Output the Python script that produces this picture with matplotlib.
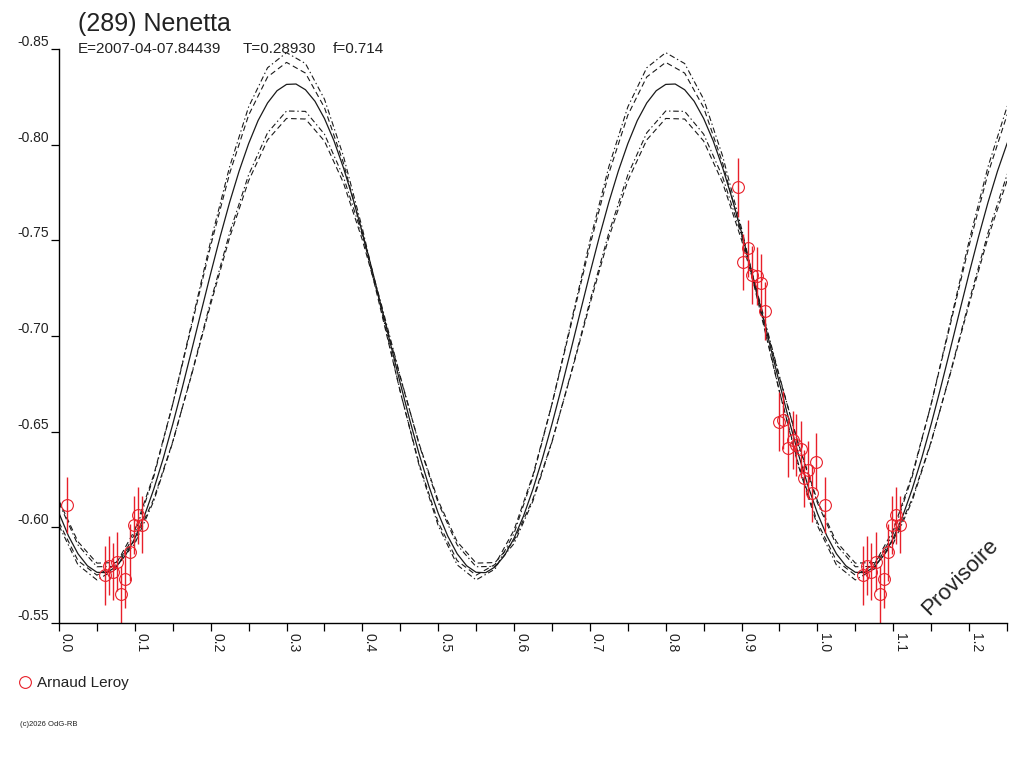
import numpy as np
import matplotlib
matplotlib.use("Agg")
import matplotlib.pyplot as plt
from matplotlib.ticker import MultipleLocator, FormatStrFormatter
from matplotlib.lines import Line2D

plt.rcParams['font.family'] = ['Liberation Sans', 'DejaVu Sans']
plt.rcParams['lines.scale_dashes'] = False

title = "(289) Nenetta"
epoch_text = "E=2007-04-07.84439"
period_text = "T=0.28930"
f_text = "f=0.714"
observer = "Arnaud Leroy"
stamp = "(c)2026 OdG-RB"
watermark = "Provisoire"

# observations: phase (0..1), reduced magnitude, error
obs_phase = [0.8947, 0.9021, 0.9087, 0.9140, 0.9197, 0.9254, 0.9307,
             0.9495, 0.9548, 0.9614, 0.9672, 0.9724, 0.9781, 0.9825,
             0.9877, 0.9935, 0.9988, 0.0102,
             0.0603, 0.0655, 0.0713, 0.0770, 0.0823, 0.0875, 0.0932,
             0.0985, 0.1042, 0.1095]
obs_mag = [-0.7777, -0.7388, -0.7458, -0.7319, -0.7314, -0.7279, -0.7131,
           -0.6552, -0.6561, -0.6413, -0.6456, -0.6430, -0.6408, -0.6256,
           -0.6300, -0.6178, -0.6343, -0.6117,
           -0.5749, -0.5800, -0.5768, -0.5820, -0.5650, -0.5730, -0.5870,
           -0.6012, -0.6062, -0.6014]
obs_err = [0.0155, 0.0145, 0.015, 0.015, 0.015, 0.015, 0.015,
           0.0155, 0.015, 0.015, 0.015, 0.016, 0.015, 0.015,
           0.015, 0.015, 0.015, 0.0148,
           0.0153, 0.0155, 0.015, 0.0155, 0.015, 0.015, 0.015,
           0.015, 0.015, 0.015]

# fitted curve, one half period of the double wave (both halves look the same)
fit_step = 0.0125
fit_mag = [-0.6074, -0.5955, -0.5862, -0.5799, -0.5765, -0.5763, -0.5793, -0.5853,
           -0.5943, -0.6059, -0.6200, -0.6361, -0.6539, -0.6729, -0.6927, -0.7128,
           -0.7327, -0.7519, -0.7699, -0.7862, -0.8005, -0.8126, -0.8218, -0.8282,
           -0.8315, -0.8317, -0.8287, -0.8227, -0.8137, -0.8021, -0.7880, -0.7719,
           -0.7541, -0.7351, -0.7153, -0.6952, -0.6753, -0.6561, -0.6381, -0.6218]

# envelope curves, same half period, coarser step
env_step = 0.025
env_outer_dd = [-0.6009, -0.5804, -0.5725, -0.5782, -0.5968, -0.6265, -0.6644, -0.7068,
                -0.7496, -0.7885, -0.8197, -0.8402, -0.8481, -0.8424, -0.8238, -0.7941,
                -0.7562, -0.7138, -0.6710, -0.6321]
env_outer_d = [-0.6026, -0.5826, -0.5750, -0.5806, -0.5986, -0.6275, -0.6644, -0.7056,
               -0.7472, -0.7850, -0.8154, -0.8354, -0.8430, -0.8374, -0.8194, -0.7905,
               -0.7536, -0.7124, -0.6708, -0.6330]
env_inner_dd = [-0.6128, -0.5908, -0.5794, -0.5796, -0.5915, -0.6138, -0.6445, -0.6804,
                -0.7181, -0.7539, -0.7842, -0.8062, -0.8176, -0.8174, -0.8055, -0.7832,
                -0.7525, -0.7166, -0.6789, -0.6431]
env_inner_d = [-0.6139, -0.5925, -0.5813, -0.5816, -0.5931, -0.6149, -0.6448, -0.6799,
               -0.7166, -0.7515, -0.7811, -0.8025, -0.8137, -0.8134, -0.8019, -0.7801,
               -0.7502, -0.7151, -0.6784, -0.6435]

red = '#e8202a'
ink = '#1a1a1a'


def repeat_curve(values, step):
    vals = np.tile(values, 3)
    vals = np.append(vals, values[0])
    phase = np.arange(len(vals)) * step
    return phase, vals


fig = plt.figure(figsize=(10.24, 7.68), dpi=100)
ax = fig.add_axes([59 / 1024, 1 - 623 / 768, 948 / 1024, 574 / 768])

dashed = (0, (4, 2.5))
dashdot = (0, (4, 2, 1, 2))
for vals, style in [(env_outer_dd, dashdot), (env_outer_d, dashed),
                    (env_inner_dd, dashdot), (env_inner_d, dashed)]:
    ph, m = repeat_curve(vals, env_step)
    ax.plot(ph, m, color=ink, lw=0.8, linestyle=style)
ph, m = repeat_curve(fit_mag, fit_step)
ax.plot(ph, m, color=ink, lw=0.9)

phase = np.array(obs_phase)
mag = np.array(obs_mag)
err = np.array(obs_err)
ph_all = np.concatenate([phase, phase + 1])
mag_all = np.concatenate([mag, mag])
err_all = np.concatenate([err, err])
keep = ph_all <= 1.25
ax.errorbar(ph_all[keep], mag_all[keep], yerr=err_all[keep], fmt='o',
            mfc='none', mec=red, ecolor=red, elinewidth=1.0, capsize=0,
            ms=8.5, mew=0.8)

ax.set_xlim(0, 1.25)
ax.set_ylim(-0.55, -0.85)
ax.spines['top'].set_visible(False)
ax.spines['right'].set_visible(False)
for s in ['left', 'bottom']:
    ax.spines[s].set_linewidth(1.0)
    ax.spines[s].set_color('black')

ax.xaxis.set_major_locator(MultipleLocator(0.1))
ax.xaxis.set_minor_locator(MultipleLocator(0.05))
ax.xaxis.set_major_formatter(FormatStrFormatter('%.1f'))
ax.yaxis.set_major_locator(MultipleLocator(0.05))
ax.yaxis.set_major_formatter(FormatStrFormatter('%.2f'))
ax.tick_params(which='both', direction='out', length=5.5, width=0.9,
               colors='black', labelsize=10, labelcolor='#222222', pad=1.5)
plt.setp(ax.get_xticklabels(), rotation=-90, ha='left')
plt.setp(ax.get_yticklabels(), va='bottom')

fig.text(78 / 1024, 1 - 31 / 768, title, fontsize=18, color='#222222', va='baseline')
fig.text(78 / 1024, 1 - 53 / 768, epoch_text, fontsize=11, color='#222222', va='baseline')
fig.text(243 / 1024, 1 - 53 / 768, period_text, fontsize=11, color='#222222', va='baseline')
fig.text(333 / 1024, 1 - 53 / 768, f_text, fontsize=11, color='#222222', va='baseline')
fig.text(960 / 1024, 1 - 577 / 768, watermark, fontsize=16, color='#222222',
         rotation=45, ha='center', va='center')

handle = Line2D([], [], marker='o', linestyle='none', mfc='none', mec=red, ms=8.5, mew=0.8)
fig.legend([handle], [observer], loc='center left', bbox_to_anchor=(17 / 1024, 1 - 683 / 768),
           frameon=False, handlelength=1.0, handletextpad=0.3, borderpad=0,
           borderaxespad=0, fontsize=11, labelcolor='#222222')
fig.text(20 / 1024, 1 - 726 / 768, stamp, fontsize=5.5, color='#222222')

fig.savefig("out.png", dpi=100)
